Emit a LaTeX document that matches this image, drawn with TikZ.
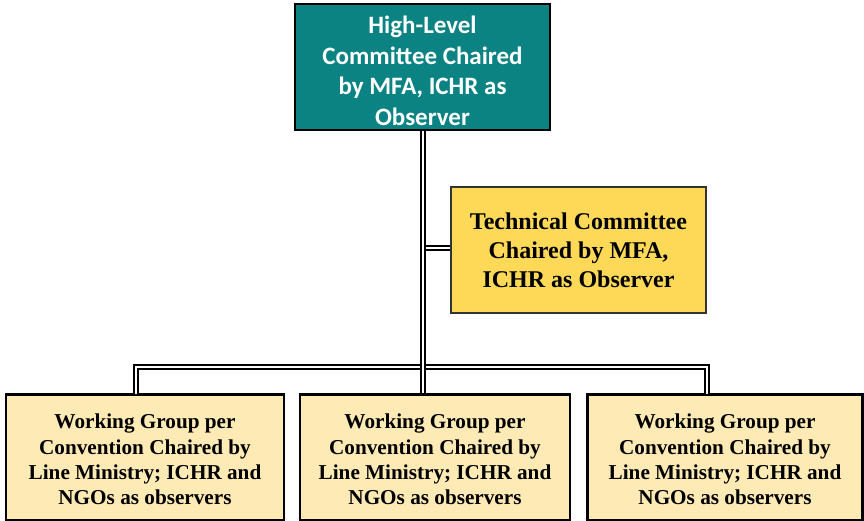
\documentclass[tikz,border=0pt]{standalone}
\usepackage{fontspec}
\setmainfont{Liberation Serif}
\newfontfamily\calfont{Carlito}
\definecolor{tealbox}{HTML}{0B8383}
\definecolor{goldbox}{HTML}{FDD957}
\definecolor{creambox}{HTML}{FDEAB5}
\begin{document}
\begin{tikzpicture}[x=1pt,y=1pt,
  box/.style={draw=black, line width=2.2pt, align=center, inner sep=0pt},
  topbox/.style={box, fill=tealbox, text=white, minimum width=255pt, minimum height=126pt,
     font=\calfont\bfseries\fontsize{25}{30.5}\selectfont},
  techbox/.style={box, draw=black!80, fill=goldbox, minimum width=255pt, minimum height=126pt,
     font=\bfseries\fontsize{24}{29}\selectfont},
  wgbox/.style={box, fill=creambox, minimum height=126pt,
     font=\bfseries\fontsize{21.2}{25.3}\selectfont},
  conn/.style={draw=black, line width=1.9pt, double=white, double distance=1.6pt}
]
\useasboundingbox (0,0) rectangle (864,-521);
\coordinate (jT) at (423,-248);
\coordinate (jL) at (136,-367);
\coordinate (jR) at (707,-367);
\coordinate (dL) at (136,-394);
\coordinate (dR) at (707,-394);
\node[topbox] (top) at (422.5,-67) {\rule{0pt}{25pt}High-Level\\Committee Chaired\\by MFA, ICHR as\\Observer};
\node[techbox] (tech) at (578.5,-250) {Technical Committee\\Chaired by MFA,\\ICHR as Observer};
\node[wgbox, minimum width=278pt] (wg1) at (145,-457.5) {\rule{0pt}{19pt}Working Group per\\Convention Chaired by\\Line Ministry; ICHR and\\NGOs as observers};
\node[wgbox, minimum width=270pt] (wg2) at (435,-457.5) {\rule{0pt}{19pt}Working Group per\\Convention Chaired by\\Line Ministry; ICHR and\\NGOs as observers};
\node[wgbox, minimum width=275pt] (wg3) at (725,-457.5) {\rule{0pt}{19pt}Working Group per\\Convention Chaired by\\Line Ministry; ICHR and\\NGOs as observers};
\path[conn] (jT) -- (tech.west |- jT);
\path[conn] (dL) -- (jL) -- (jR) -- (dR);
\path[conn] (top.south -| jT) -- (wg2.north -| jT);
\end{tikzpicture}
\end{document}
